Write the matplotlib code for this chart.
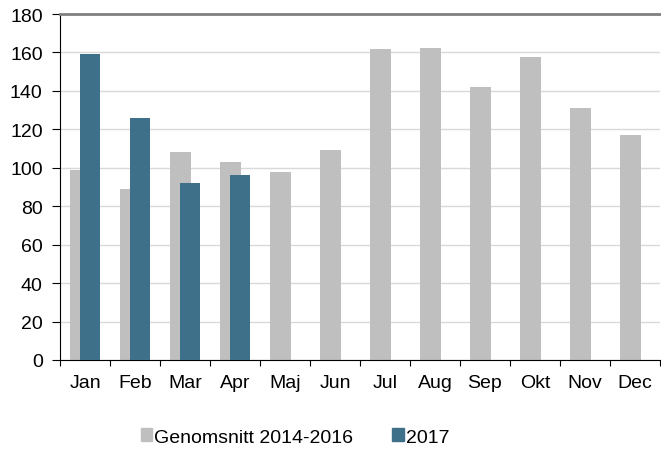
import matplotlib.pyplot as plt
import numpy as np
from matplotlib.patches import Patch

months = ["Jan", "Feb", "Mar", "Apr", "Maj", "Jun", "Jul", "Aug", "Sep", "Okt", "Nov", "Dec"]
avg_2014_2016 = [99, 89, 108, 103, 98, 109, 162, 162.5, 142, 157.5, 131, 117]
vals_2017 = [159, 126, 92, 96]

gray = "#BFBFBF"
blue = "#3E7189"

plt.rcParams["font.family"] = ["Liberation Sans", "DejaVu Sans"]
fig = plt.figure(figsize=(6.61, 4.52), dpi=100)
ax = fig.add_axes([60/661, (452-361)/452, 600/661, 346/452])

x = np.arange(len(months))
ax.bar(x - 0.09, avg_2014_2016, width=0.42, color=gray, zorder=2)
ax.bar(np.arange(len(vals_2017)) + 0.1, vals_2017, width=0.4, color=blue, zorder=3)

ax.set_xlim(-0.5, len(months) - 0.5)
ax.set_ylim(0, 180)
ax.set_yticks(np.arange(0, 181, 20))
ax.yaxis.grid(True, color="#D9D9D9", linewidth=1, zorder=0)
ax.set_axisbelow(True)

# tick marks between months, labels at centres
ax.set_xticks(np.arange(-0.5, len(months), 1))
ax.set_xticklabels([])
ax.set_xticks(x, minor=True)
ax.set_xticklabels(months, minor=True)
ax.tick_params(axis="x", which="major", length=4.5, direction="out", color="black")
ax.tick_params(axis="x", which="minor", length=0, pad=10, labelsize=14)
ax.tick_params(axis="y", length=5.5, direction="out", labelsize=14, pad=7)

ax.spines["right"].set_visible(False)
ax.spines["top"].set_color("#808080")
ax.spines["top"].set_linewidth(2)
ax.spines["left"].set_color("black")
ax.spines["bottom"].set_color("black")

handles = [Patch(color=gray, label="Genomsnitt 2014-2016"), Patch(color=blue, label="2017")]
fig.legend(handles=handles, loc="center", bbox_to_anchor=(295/661, 1 - 438/452), ncol=2,
           frameon=False, fontsize=14, handlelength=0.6, handleheight=0.6,
           handletextpad=0.1, columnspacing=2.0)

fig.savefig("out.png", dpi=100)
